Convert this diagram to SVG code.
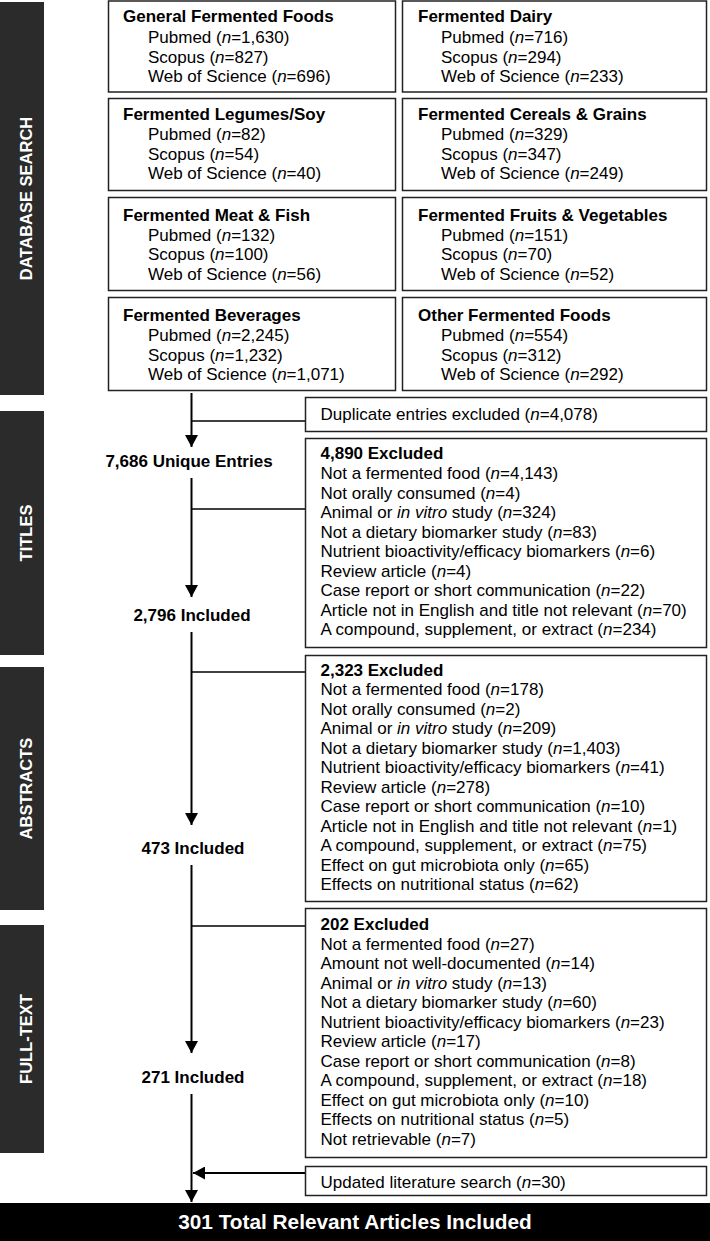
<svg xmlns="http://www.w3.org/2000/svg" width="710" height="1241" viewBox="0 0 710 1241">
<defs>
<style>
.bar{fill:#2b2b2b}
.bt{font-family:"Liberation Sans",Arial,sans-serif;font-weight:bold;font-size:16.5px;fill:#fff;text-anchor:middle}
.box{fill:#fff;stroke:#222;stroke-width:1.5}
.t{font-family:"Liberation Sans",Arial,sans-serif;font-size:17px;fill:#000}
.b{font-weight:bold}
.c{text-anchor:middle;font-weight:bold}
.i{font-style:italic}
.ln{stroke:#000;stroke-width:2;fill:none}
.br{stroke:#000;stroke-width:1.4;fill:none}
</style>
<marker id="ah" markerUnits="userSpaceOnUse" markerWidth="13" markerHeight="13" viewBox="0 0 13 13" refX="12" refY="6.5" orient="auto">
<path d="M0,0 L12,6.5 L0,13 z" fill="#000"/>
</marker>
</defs>
<rect width="710" height="1241" fill="#fff"/>

<g id="sidebars">
<rect class="bar" x="0" y="2" width="44" height="393"/>
<text class="bt" transform="translate(31.5,198.5) rotate(-90)">DATABASE SEARCH</text>
<rect class="bar" x="0" y="411" width="44" height="244"/>
<text class="bt" transform="translate(31.5,533) rotate(-90)">TITLES</text>
<rect class="bar" x="0" y="667" width="44" height="243"/>
<text class="bt" transform="translate(31.5,788.5) rotate(-90)">ABSTRACTS</text>
<rect class="bar" x="0" y="925" width="44" height="228"/>
<text class="bt" transform="translate(31.5,1039) rotate(-90)">FULL-TEXT</text>
</g>

<g id="connectors">
<line class="ln" x1="191.5" y1="393" x2="191.5" y2="447" marker-end="url(#ah)"/>
<line class="ln" x1="191.5" y1="478" x2="191.5" y2="597" marker-end="url(#ah)"/>
<line class="ln" x1="191.5" y1="632" x2="191.5" y2="825" marker-end="url(#ah)"/>
<line class="ln" x1="191.5" y1="865" x2="191.5" y2="1053" marker-end="url(#ah)"/>
<line class="ln" x1="191.5" y1="1094" x2="191.5" y2="1202" marker-end="url(#ah)"/>
<line class="br" x1="191.5" y1="421" x2="305" y2="421"/>
<line class="br" x1="191.5" y1="509" x2="305" y2="509"/>
<line class="br" x1="191.5" y1="672" x2="305" y2="672"/>
<line class="br" x1="191.5" y1="926" x2="305" y2="926"/>
<line class="ln" x1="305" y1="1173" x2="193" y2="1173" marker-end="url(#ah)"/>
</g>

<g id="general">
<rect class="box" x="108.5" y="1" width="287" height="91"/>
<text class="t b" x="123" y="22">General Fermented Foods</text>
<text class="t" x="148" y="43">Pubmed (<tspan class="i">n</tspan>=1,630)</text>
<text class="t" x="148" y="62.5">Scopus (<tspan class="i">n</tspan>=827)</text>
<text class="t" x="148" y="82">Web of Science (<tspan class="i">n</tspan>=696)</text>
</g>
<g id="dairy">
<rect class="box" x="402.5" y="1" width="304" height="91"/>
<text class="t b" x="418" y="22">Fermented Dairy</text>
<text class="t" x="441" y="43">Pubmed (<tspan class="i">n</tspan>=716)</text>
<text class="t" x="441" y="62.5">Scopus (<tspan class="i">n</tspan>=294)</text>
<text class="t" x="441" y="82">Web of Science (<tspan class="i">n</tspan>=233)</text>
</g>
<g id="legumes">
<rect class="box" x="108.5" y="98.5" width="287" height="92"/>
<text class="t b" x="123" y="120">Fermented Legumes/Soy</text>
<text class="t" x="148" y="140">Pubmed (<tspan class="i">n</tspan>=82)</text>
<text class="t" x="148" y="159.5">Scopus (<tspan class="i">n</tspan>=54)</text>
<text class="t" x="148" y="179">Web of Science (<tspan class="i">n</tspan>=40)</text>
</g>
<g id="cereals">
<rect class="box" x="402.5" y="98.5" width="304" height="92"/>
<text class="t b" x="418" y="120">Fermented Cereals &amp; Grains</text>
<text class="t" x="441" y="140">Pubmed (<tspan class="i">n</tspan>=329)</text>
<text class="t" x="441" y="159.5">Scopus (<tspan class="i">n</tspan>=347)</text>
<text class="t" x="441" y="179">Web of Science (<tspan class="i">n</tspan>=249)</text>
</g>
<g id="meat">
<rect class="box" x="108.5" y="197.5" width="287" height="93"/>
<text class="t b" x="123" y="221">Fermented Meat &amp; Fish</text>
<text class="t" x="148" y="240.5">Pubmed (<tspan class="i">n</tspan>=132)</text>
<text class="t" x="148" y="260">Scopus (<tspan class="i">n</tspan>=100)</text>
<text class="t" x="148" y="279.5">Web of Science (<tspan class="i">n</tspan>=56)</text>
</g>
<g id="fruits">
<rect class="box" x="402.5" y="197.5" width="304" height="93"/>
<text class="t b" x="418" y="221">Fermented Fruits &amp; Vegetables</text>
<text class="t" x="441" y="240.5">Pubmed (<tspan class="i">n</tspan>=151)</text>
<text class="t" x="441" y="260">Scopus (<tspan class="i">n</tspan>=70)</text>
<text class="t" x="441" y="279.5">Web of Science (<tspan class="i">n</tspan>=52)</text>
</g>
<g id="beverages">
<rect class="box" x="108.5" y="297.5" width="287" height="93"/>
<text class="t b" x="123" y="321">Fermented Beverages</text>
<text class="t" x="148" y="341">Pubmed (<tspan class="i">n</tspan>=2,245)</text>
<text class="t" x="148" y="360.5">Scopus (<tspan class="i">n</tspan>=1,232)</text>
<text class="t" x="148" y="380">Web of Science (<tspan class="i">n</tspan>=1,071)</text>
</g>
<g id="other">
<rect class="box" x="402.5" y="297.5" width="304" height="93"/>
<text class="t b" x="418" y="321">Other Fermented Foods</text>
<text class="t" x="441" y="341">Pubmed (<tspan class="i">n</tspan>=554)</text>
<text class="t" x="441" y="360.5">Scopus (<tspan class="i">n</tspan>=312)</text>
<text class="t" x="441" y="380">Web of Science (<tspan class="i">n</tspan>=292)</text>
</g>

<g id="duplicates">
<rect class="box" x="305.5" y="397.5" width="401" height="34"/>
<text class="t" x="320.5" y="420">Duplicate entries excluded (<tspan class="i">n</tspan>=4,078)</text>
</g>
<g id="unique">
<text class="t c" x="189" y="467">7,686 Unique Entries</text>
</g>
<g id="titles-excluded">
<rect class="box" x="305.5" y="438.5" width="401" height="209"/>
<text class="t b" x="320.5" y="459">4,890 Excluded</text>
<text class="t" x="320.5" y="479">Not a fermented food (<tspan class="i">n</tspan>=4,143)</text>
<text class="t" x="320.5" y="498.5">Not orally consumed (<tspan class="i">n</tspan>=4)</text>
<text class="t" x="320.5" y="518">Animal or <tspan class="i">in vitro</tspan> study (<tspan class="i">n</tspan>=324)</text>
<text class="t" x="320.5" y="537.5">Not a dietary biomarker study (<tspan class="i">n</tspan>=83)</text>
<text class="t" x="320.5" y="557">Nutrient bioactivity/efficacy biomarkers (<tspan class="i">n</tspan>=6)</text>
<text class="t" x="320.5" y="576.5">Review article (<tspan class="i">n</tspan>=4)</text>
<text class="t" x="320.5" y="596">Case report or short communication (<tspan class="i">n</tspan>=22)</text>
<text class="t" x="320.5" y="615.5">Article not in English and title not relevant (<tspan class="i">n</tspan>=70)</text>
<text class="t" x="320.5" y="635">A compound, supplement, or extract (<tspan class="i">n</tspan>=234)</text>
</g>
<g id="titles-included">
<text class="t c" x="192" y="621">2,796 Included</text>
</g>
<g id="abstracts-excluded">
<rect class="box" x="305.5" y="655.5" width="401" height="246"/>
<text class="t b" x="320.5" y="675.5">2,323 Excluded</text>
<text class="t" x="320.5" y="695">Not a fermented food (<tspan class="i">n</tspan>=178)</text>
<text class="t" x="320.5" y="714.5">Not orally consumed (<tspan class="i">n</tspan>=2)</text>
<text class="t" x="320.5" y="734">Animal or <tspan class="i">in vitro</tspan> study (<tspan class="i">n</tspan>=209)</text>
<text class="t" x="320.5" y="753.5">Not a dietary biomarker study (<tspan class="i">n</tspan>=1,403)</text>
<text class="t" x="320.5" y="773">Nutrient bioactivity/efficacy biomarkers (<tspan class="i">n</tspan>=41)</text>
<text class="t" x="320.5" y="792.5">Review article (<tspan class="i">n</tspan>=278)</text>
<text class="t" x="320.5" y="812">Case report or short communication (<tspan class="i">n</tspan>=10)</text>
<text class="t" x="320.5" y="831.5">Article not in English and title not relevant (<tspan class="i">n</tspan>=1)</text>
<text class="t" x="320.5" y="851">A compound, supplement, or extract (<tspan class="i">n</tspan>=75)</text>
<text class="t" x="320.5" y="870.5">Effect on gut microbiota only (<tspan class="i">n</tspan>=65)</text>
<text class="t" x="320.5" y="890">Effects on nutritional status (<tspan class="i">n</tspan>=62)</text>
</g>
<g id="abstracts-included">
<text class="t c" x="193" y="854">473 Included</text>
</g>
<g id="fulltext-excluded">
<rect class="box" x="305.5" y="908.5" width="401" height="249"/>
<text class="t b" x="320.5" y="930">202 Excluded</text>
<text class="t" x="320.5" y="949.5">Not a fermented food (<tspan class="i">n</tspan>=27)</text>
<text class="t" x="320.5" y="969">Amount not well-documented (<tspan class="i">n</tspan>=14)</text>
<text class="t" x="320.5" y="988.5">Animal or <tspan class="i">in vitro</tspan> study (<tspan class="i">n</tspan>=13)</text>
<text class="t" x="320.5" y="1008">Not a dietary biomarker study (<tspan class="i">n</tspan>=60)</text>
<text class="t" x="320.5" y="1027.5">Nutrient bioactivity/efficacy biomarkers (<tspan class="i">n</tspan>=23)</text>
<text class="t" x="320.5" y="1047">Review article (<tspan class="i">n</tspan>=17)</text>
<text class="t" x="320.5" y="1066.5">Case report or short communication (<tspan class="i">n</tspan>=8)</text>
<text class="t" x="320.5" y="1086">A compound, supplement, or extract (<tspan class="i">n</tspan>=18)</text>
<text class="t" x="320.5" y="1105.5">Effect on gut microbiota only (<tspan class="i">n</tspan>=10)</text>
<text class="t" x="320.5" y="1125">Effects on nutritional status (<tspan class="i">n</tspan>=5)</text>
<text class="t" x="320.5" y="1144.5">Not retrievable (<tspan class="i">n</tspan>=7)</text>
</g>
<g id="fulltext-included">
<text class="t c" x="193" y="1083">271 Included</text>
</g>
<g id="updated">
<rect class="box" x="305.5" y="1166.5" width="401" height="29"/>
<text class="t" x="320.5" y="1188">Updated literature search (<tspan class="i">n</tspan>=30)</text>
</g>
<g id="total">
<rect x="0" y="1203" width="710" height="38" fill="#000"/>
<text x="355" y="1228.5" font-family="'Liberation Sans',Arial,sans-serif" font-weight="bold" font-size="20.8" fill="#fff" text-anchor="middle">301 Total Relevant Articles Included</text>
</g>
</svg>
